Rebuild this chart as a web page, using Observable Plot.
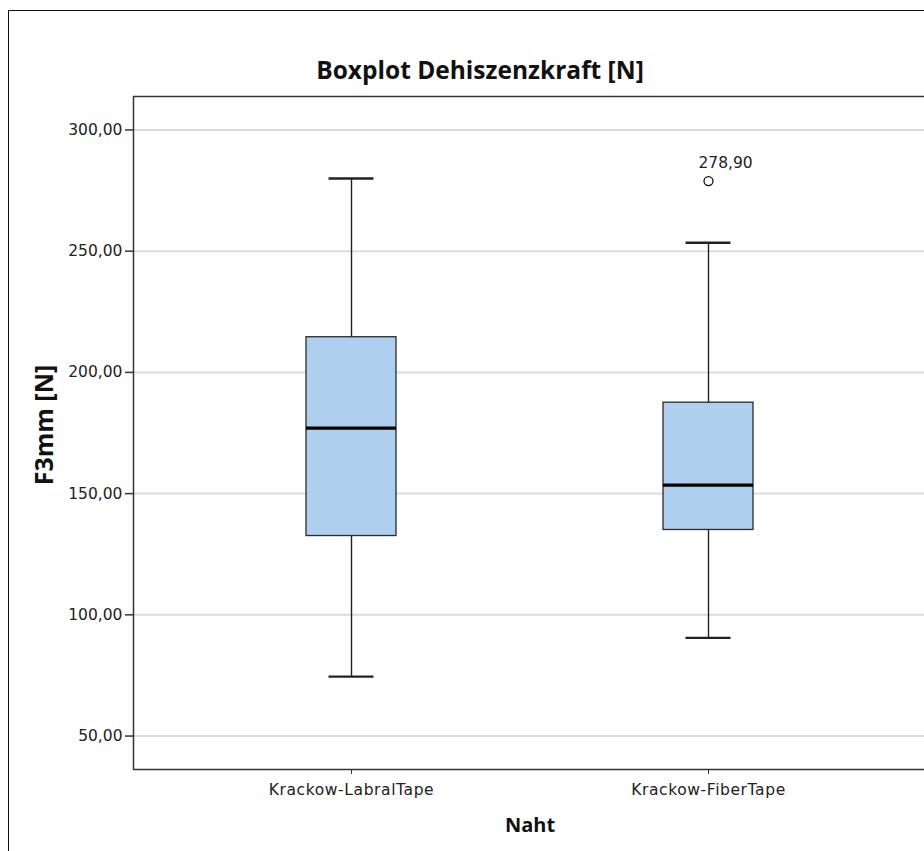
<!DOCTYPE html>
<html>
<head>
<meta charset="utf-8">
<script src="https://cdn.jsdelivr.net/npm/d3@7"></script>
<script src="https://cdn.jsdelivr.net/npm/@observablehq/plot@0.6"></script>
<style>
  html, body { margin: 0; padding: 0; background: #fff; overflow: hidden; }
  #wrap { position: relative; width: 924px; height: 851px; overflow: hidden; }
  #border { position: absolute; left: 8px; top: 10px; width: 960px; height: 900px; border: 1px solid #111; box-sizing: border-box; }
  #title { position: absolute; left: 0; top: 0; width: 960px; height: 140px; text-align: center;
           font: bold 24.5px "Open Sans", "DejaVu Sans", sans-serif; line-height: 140px; color: #111; }
  #chart { position: absolute; left: 0; top: 90px; width: 960px; }
  #chart svg { max-width: none !important; }
</style>
</head>
<body>
<div id="wrap">
  <div id="border"></div>
  <div id="title">Boxplot Dehiszenzkraft [N]</div>
  <div id="chart"></div>
</div>
<script>
const categories = ["Krackow-LabralTape", "Krackow-FiberTape"];
const whiskerLow = [74.5, 90.5];
const q1 = [132.5, 135.0];
const median = [177.0, 153.5];
const q3 = [214.5, 187.5];
const whiskerHigh = [280.0, 253.5];
const outlierCategory = ["Krackow-FiberTape"];
const outlierValue = [278.9];
const yTicks = [50, 100, 150, 200, 250, 300];

const fmt = d => d.toFixed(2).replace(".", ",");

const boxes = categories.map((c, i) => ({
  cat: c, lo: whiskerLow[i], q1: q1[i], med: median[i], q3: q3[i], hi: whiskerHigh[i]
}));
const outliers = outlierCategory.map((c, i) => ({cat: c, v: outlierValue[i], label: fmt(outlierValue[i])}));

const plot = Plot.plot({
  width: 960,
  height: 761,
  marginTop: 6,
  marginBottom: 82,
  marginLeft: 133,
  marginRight: 34,
  style: {fontFamily: "'DejaVu Sans', sans-serif", fontSize: "15.5px", color: "#222", background: "transparent", maxWidth: "none"},
  x: {type: "band", domain: categories, paddingInner: 0.748, paddingOuter: 0.4846},
  y: {domain: [36.2, 313.8]},
  marks: [
    Plot.gridY(yTicks, {stroke: "#dcdcdc", strokeOpacity: 1, strokeWidth: 2}),
    Plot.axisY(yTicks, {tickFormat: fmt, tickSize: 8, tickPadding: 3, stroke: "#333", strokeWidth: 1.5,
      label: "F3mm [N]", labelAnchor: "center", labelArrow: "none", labelOffset: 98}),
    Plot.axisX({tickSize: 5, tickPadding: 9, stroke: "#333", label: "Naht", labelAnchor: "center",
      labelArrow: "none", labelOffset: 62}),
    Plot.ruleX(boxes, {x: "cat", y1: "lo", y2: "hi", stroke: "#222", strokeWidth: 1.4}),
    Plot.tickY(boxes, {x: "cat", y: "lo", stroke: "#222", strokeWidth: 2.4, insetLeft: 22.5, insetRight: 22.5}),
    Plot.tickY(boxes, {x: "cat", y: "hi", stroke: "#222", strokeWidth: 2.4, insetLeft: 22.5, insetRight: 22.5}),
    Plot.barY(boxes, {x: "cat", y1: "q1", y2: "q3", fill: "#aecfed", stroke: "#2a2a2a", strokeWidth: 1.3}),
    Plot.tickY(boxes, {x: "cat", y: "med", stroke: "#000", strokeWidth: 3.2}),
    Plot.dot(outliers, {x: "cat", y: "v", r: 4.5, stroke: "#111", fill: "#fff", strokeWidth: 1.3}),
    Plot.text(outliers, {x: "cat", y: "v", text: "label", textAnchor: "start", dx: -10, dy: -18, fill: "#222", fontSize: 15.5}),
    Plot.frame({stroke: "#333", strokeWidth: 1.5})
  ]
});
document.getElementById("chart").appendChild(plot);

// x tick labels slightly spaced
d3.select(plot).selectAll('[aria-label="x-axis tick label"] text').style("letter-spacing", "0.6px");

// style axis labels (bold, larger)
d3.select(plot).selectAll('[aria-label="y-axis label"] text')
  .style("font-size", "25px").style("font-weight", "bold").style("fill", "#111")
  .style("font-family", "'Open Sans', 'DejaVu Sans', sans-serif").attr("dx", 8);
d3.select(plot).selectAll('[aria-label="x-axis label"] text')
  .style("font-size", "20px").style("font-weight", "bold").style("fill", "#111")
  .style("font-family", "'Open Sans', 'DejaVu Sans', sans-serif");
</script>
</body>
</html>
